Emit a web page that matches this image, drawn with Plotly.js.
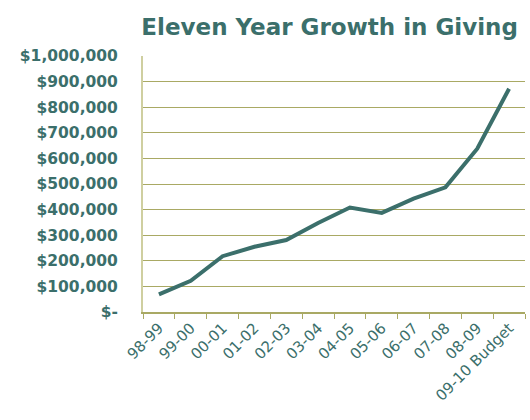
<!DOCTYPE html>
<html><head><meta charset="utf-8">
<script src="https://cdn.plot.ly/plotly-3.0.1.min.js"></script>
<style>html,body{margin:0;padding:0;background:#fff}#chart{width:530px;height:420px}</style>
</head><body><div id="chart"></div>
<script>
const categories = ["98-99","99-00","00-01","01-02","02-03","03-04","04-05","05-06","06-07","07-08","08-09","09-10 Budget"];
const giving = [69000,122000,218000,255000,281000,348000,408000,387000,443000,487000,638000,872000];
const yTickVals = [0,100000,200000,300000,400000,500000,600000,700000,800000,900000,1000000];
const yTickText = ["$-","$100,000","$200,000","$300,000","$400,000","$500,000","$600,000","$700,000","$800,000","$900,000","$1,000,000"];

const teal = "#3b6f6b";
const olive = "#a9a964";
const fam = "DejaVu Sans, sans-serif";
Plotly.newPlot("chart", [{
  x: categories, y: giving, type: "scatter", mode: "lines",
  line: {color: teal, width: 4}, hoverinfo: "skip"
}], {
  width: 530, height: 420,
  margin: {l: 143, r: 5, t: 56, b: 108},
  paper_bgcolor: "#fff", plot_bgcolor: "#fff",
  showlegend: false,
  title: {text: "<b>Eleven Year Growth in Giving</b>", x: 0.622, xanchor: "center", y: 0.937, yanchor: "middle",
    font: {family: fam, size: 23, color: teal}},
  xaxis: {type: "category", range: [-0.5, 11.5], tickson: "boundaries", ticks: "outside", ticklen: 5, tickcolor: olive,
    showgrid: false, showline: true, linecolor: olive, linewidth: 1.5, tickangle: -45,
    tickfont: {family: fam, size: 15, color: teal}},
  yaxis: {range: [0, 1000000], tickvals: yTickVals, ticktext: yTickText, showgrid: true, gridcolor: olive, gridwidth: 1,
    showline: true, linecolor: "#cfcfa0", linewidth: 2, zeroline: false, ticks: "", ticklabelstandoff: 20,
    tickfont: {family: fam, size: 15.5, color: teal, weight: "bold"}}
}, {displayModeBar: false, staticPlot: true});
</script></body></html>
